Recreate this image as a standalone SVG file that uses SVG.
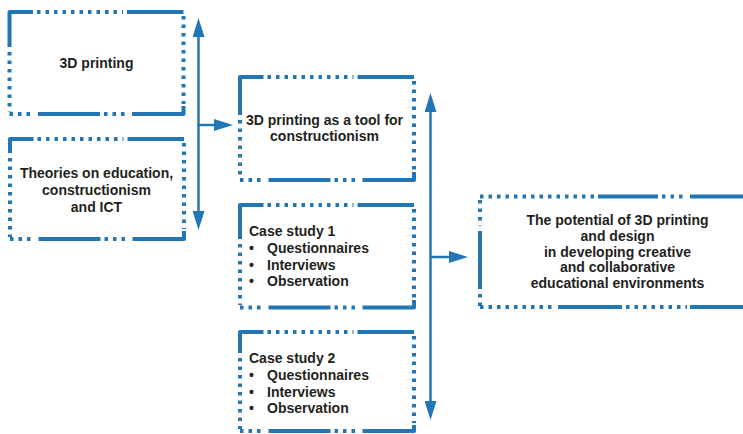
<svg xmlns="http://www.w3.org/2000/svg" width="743" height="434" viewBox="0 0 743 434">
  <style>
    .solid { fill: none; stroke: #2276b5; stroke-width: 4; stroke-linejoin: round; }
    .dots { fill: none; stroke: #2276b5; stroke-width: 4; stroke-dasharray: 3.5 5; }
    .link { fill: none; stroke: #2276b5; stroke-width: 2.5; }
    .lbl { font-family: "Liberation Sans", Arial, sans-serif; font-weight: bold; font-size: 14px; fill: #231f20; }
    .mid { text-anchor: middle; }
  </style>
  <defs>
    <marker id="head" markerUnits="userSpaceOnUse" markerWidth="19" markerHeight="12" viewBox="0 0 19 12" refX="4" refY="6" orient="auto-start-reverse">
      <path d="M0 0 L19 6 L0 12 Z" fill="#2276b5"/>
    </marker>
  </defs>

  <rect width="743" height="434" fill="#ffffff"/>

  <!-- connectors -->
  <g id="connectors">
    <line class="link" x1="198.5" y1="33" x2="198.5" y2="215" marker-start="url(#head)" marker-end="url(#head)"/>
    <line class="link" x1="198.5" y1="125" x2="218" y2="125" marker-end="url(#head)"/>
    <line class="link" x1="430.5" y1="108" x2="430.5" y2="405" marker-start="url(#head)" marker-end="url(#head)"/>
    <line class="link" x1="430.5" y1="257" x2="453" y2="257" marker-end="url(#head)"/>
  </g>

  <!-- 3D printing -->
  <g id="n-3d-printing">
    <path class="solid" d="M33 12 H9.5 V47"/>
    <path class="dots" d="M37 12 H123"/>
    <path class="solid" d="M127 12 H183.5"/>
    <path class="dots" d="M183.5 16 V104"/>
    <path class="solid" d="M132 114 H183.5 V106"/>
    <path class="dots" d="M104 114 H127"/>
    <path class="solid" d="M38 114 H100"/>
    <path class="dots" d="M9.5 114 H34"/>
    <path class="dots" d="M9.5 52 V112"/>
    <text class="lbl mid" x="96.5" y="68">3D printing</text>
  </g>

  <!-- Theories -->
  <g id="n-theories">
    <path class="solid" d="M33.5 139 H10 V153"/>
    <path class="dots" d="M37.5 139 H123.5"/>
    <path class="solid" d="M127.5 139 H184"/>
    <path class="dots" d="M184 143 V229"/>
    <path class="solid" d="M132.5 239 H184 V231"/>
    <path class="dots" d="M104.5 239 H127.5"/>
    <path class="solid" d="M38.5 239 H100.5"/>
    <path class="dots" d="M10 239 H34.5"/>
    <path class="dots" d="M10 158 V237"/>
    <text class="lbl mid" x="96.5" y="178">Theories on education,</text>
    <text class="lbl mid" x="96.5" y="195">constructionism</text>
    <text class="lbl mid" x="96.5" y="212">and ICT</text>
  </g>

  <!-- 3D printing as a tool -->
  <g id="n-tool">
    <path class="solid" d="M263.5 77 H240 V115"/>
    <path class="dots" d="M267.5 77 H353.5"/>
    <path class="solid" d="M357.5 77 H414"/>
    <path class="dots" d="M414 81 V170"/>
    <path class="solid" d="M362.5 180 H414 V172"/>
    <path class="dots" d="M334.5 180 H357.5"/>
    <path class="solid" d="M268.5 180 H330.5"/>
    <path class="dots" d="M240 180 H264.5"/>
    <path class="dots" d="M240 120 V178"/>
    <text class="lbl mid" x="324.5" y="125">3D printing as a tool for</text>
    <text class="lbl mid" x="324.5" y="141">constructionism</text>
  </g>

  <!-- Case study 1 -->
  <g id="n-case1">
    <path class="solid" d="M263.5 205 H240 V239"/>
    <path class="dots" d="M267.5 205 H353.5"/>
    <path class="solid" d="M357.5 205 H414"/>
    <path class="dots" d="M414 209 V298"/>
    <path class="solid" d="M362.5 307.5 H414 V300"/>
    <path class="dots" d="M334.5 307.5 H357.5"/>
    <path class="solid" d="M268.5 307.5 H330.5"/>
    <path class="dots" d="M240 307.5 H264.5"/>
    <path class="dots" d="M240 244 V305"/>
    <text class="lbl" x="249" y="236">Case study 1</text>
    <text class="lbl" x="249" y="253">•</text>
    <text class="lbl" x="267" y="253">Questionnaires</text>
    <text class="lbl" x="249" y="269.5">•</text>
    <text class="lbl" x="267" y="269.5">Interviews</text>
    <text class="lbl" x="249" y="286">•</text>
    <text class="lbl" x="267" y="286">Observation</text>
  </g>

  <!-- Case study 2 -->
  <g id="n-case2">
    <path class="solid" d="M263.5 332 H240 V353"/>
    <path class="dots" d="M267.5 332 H353.5"/>
    <path class="solid" d="M357.5 332 H414"/>
    <path class="dots" d="M414 336 V423"/>
    <path class="solid" d="M362.5 431 H414 V425"/>
    <path class="dots" d="M334.5 431 H357.5"/>
    <path class="solid" d="M268.5 431 H330.5"/>
    <path class="dots" d="M240 431 H264.5"/>
    <path class="dots" d="M240 358 V429"/>
    <text class="lbl" x="249" y="363">Case study 2</text>
    <text class="lbl" x="249" y="380">•</text>
    <text class="lbl" x="267" y="380">Questionnaires</text>
    <text class="lbl" x="249" y="396.5">•</text>
    <text class="lbl" x="267" y="396.5">Interviews</text>
    <text class="lbl" x="249" y="413">•</text>
    <text class="lbl" x="267" y="413">Observation</text>
  </g>

  <!-- Outcome -->
  <g id="n-potential">
    <path class="dots" d="M480 196.5 H595"/>
    <path class="solid" d="M598 196.5 H658"/>
    <path class="dots" d="M662 196.5 H687"/>
    <path class="solid" d="M690 196.5 H750"/>
    <path class="dots" d="M480 200 V226"/>
    <path class="solid" d="M480 231 V289"/>
    <path class="dots" d="M480 294 V307"/>
    <path class="dots" d="M480 307 H553"/>
    <path class="solid" d="M558 307 H622"/>
    <path class="dots" d="M626 307 H687"/>
    <path class="solid" d="M690 307 H750"/>
    <text class="lbl mid" x="617.5" y="225">The potential of 3D printing</text>
    <text class="lbl mid" x="617.5" y="240.8">and design</text>
    <text class="lbl mid" x="617.5" y="256.6">in developing creative</text>
    <text class="lbl mid" x="617.5" y="272.4">and collaborative</text>
    <text class="lbl mid" x="617.5" y="288.2">educational environments</text>
  </g>
</svg>
